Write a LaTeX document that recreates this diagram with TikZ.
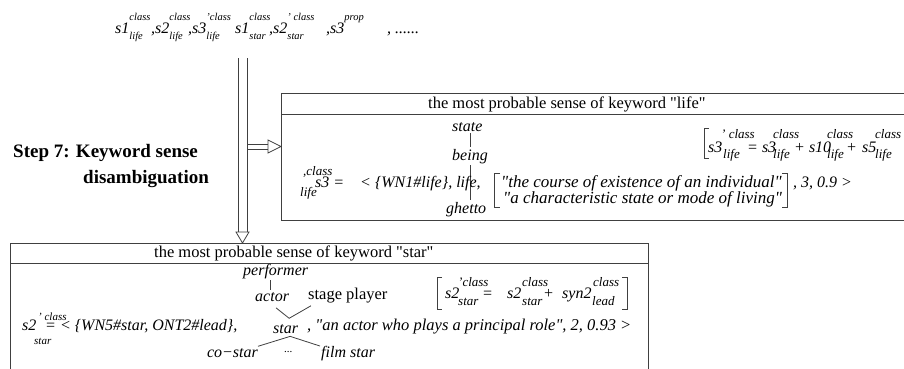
\documentclass[tikz,border=0pt]{standalone}
\usepackage{fontspec}
\setmainfont{Liberation Serif}[Ligatures=TeXOff]
\usetikzlibrary{calc}
\newcommand\sps[3]{#1\begingroup\fontsize{10.5}{10.5}\selectfont\setbox0\hbox{#2}\setbox2\hbox{#3}\ifdim\wd0>\wd2 \dimen0=\wd0 \else \dimen0=\wd2 \fi\hbox to\dimen0{\rlap{\raise13pt\box0}\lower6pt\box2\hfil}\endgroup}
\begin{document}
\begin{tikzpicture}[x=1pt,y=-1pt,
  ln/.style={draw=black!75, line width=0.8pt},
  panel/.style={draw=black!75, line width=0.9pt, anchor=north west, inner sep=0pt},
  t/.style={inner sep=0pt, anchor=base west, font=\fontsize{16}{16}\selectfont\itshape},
  tq/.style={inner sep=0pt, anchor=base west, font=\fontsize{17}{17}\selectfont\itshape},
  tr/.style={inner xsep=0pt, inner ysep=1.5pt, anchor=base west, font=\fontsize{16}{16}\selectfont\itshape},
  sc/.style={inner sep=0pt, anchor=base west, font=\fontsize{13}{13}\selectfont\itshape},
  ss/.style={inner sep=0pt, anchor=base west, font=\fontsize{11}{11}\selectfont\itshape},
  rm/.style={inner sep=0pt, anchor=base west, font=\fontsize{16.5}{16.5}\selectfont},
  bf/.style={inner sep=0pt, anchor=base west, font=\fontsize{19}{19}\selectfont\bfseries}]
\useasboundingbox (0,0) rectangle (904,368);
\clip (0,0) rectangle (904,368);

% ---------- top list of senses
\node[t] (i1) at (115,33) {\sps{s1}{class}{life}};
\node[t] (i2) at (151,33) {\sps{,s2}{class}{life}};
\node[t] (i3) at (188,33) {\sps{,s3}{’class}{life}};
\node[t] (i4) at (235,33) {\sps{s1}{class}{star}};
\node[t] (i5) at (269,33) {\sps{,s2}{’ class}{star}};
\node[t] (i6) at (326,33) {\sps{,s3}{prop}{}};
\node[t] (i7) at (387,33) {, ......};

% ---------- step label
\node[bf] (step1) at (13,157) {Step 7: Keyword sense};
\node[bf] (step2) at (83,183) {disambiguation};

% ---------- panels
\node[panel, minimum width=660pt, minimum height=127pt] (lifebox) at (281,93) {};
\draw[ln] ($(lifebox.north west)+(0,21)$) -- ($(lifebox.north east)+(0,21)$);
\node[panel, minimum width=638pt, minimum height=140pt] (starbox) at (10,243) {};
\draw[ln] ($(starbox.north west)+(0,20)$) -- ($(starbox.north east)+(0,20)$);

% ---------- double arrows
\coordinate (vtop) at (242.5,58);
\coordinate (vbot) at (242.5,232);
\coordinate (hmid) at (247,146.5);
\coordinate (htri) at (268,146.5);
\draw[ln] ($(vtop)+(-4.5,0)$) -- ($(vbot)+(-4.5,0)$);
\draw[ln] ($(vtop)+(4.5,0)$) -- ($(vbot)+(4.5,0)$);
\draw[ln, fill=white] ($(vbot)+(-6.5,0)$) -- ($(vbot)+(6.5,0)$) -- (starbox.north west -| vbot) -- cycle;
\draw[ln] ($(hmid)+(0,-2.5)$) -- ($(htri)+(0,-2.5)$);
\draw[ln] ($(hmid)+(0,2.5)$) -- ($(htri)+(0,2.5)$);
\draw[ln, fill=white] ($(htri)+(0,-6.5)$) -- ($(htri)+(0,6.5)$) -- (htri -| lifebox.west) -- cycle;

% ---------- life panel
\node[rm] (lifehdr) at (428,108) {the most probable sense of keyword "life"};
\node[tr] (state) at (452,131) {state};
\node[tr] (being) at (452,160) {being};
\node[tr] (ghetto) at (446,213) {ghetto};
\coordinate (tx) at (470,0);
\draw[ln] (state.south -| tx) -- (being.north -| tx);
\draw[ln] (being.south -| tx) -- (ghetto.north -| tx);
\node[sc] (s3pre) at (303,175) {,class};
\node[sc] (s3sub) at (300,196) {life};
\node[t] (s3eq) at (315,187) {s3 =};
\node[t] (wn1) at (360,187) {< \{WN1\#life\}, life,};
\draw[ln] (500,173) -- (494,173) -- (494,207) -- (500,207);
\node[tq] (q1) at (501,187) {"the course of existence of an individual"};
\node[tq] (q2) at (503,203) {"a characteristic state or mode of living"};
\draw[ln] (782,173) -- (787,173) -- (787,207) -- (782,207);
\node[t] (num1) at (793,187) {, 3, 0.9 >};

\draw[ln] (709,128) -- (704,128) -- (704,158) -- (709,158);
\node[t] (f1a) at (708,152) {s3};
\node[sc] (f1b) at (721,138) {’ class};
\node[sc] (f1c) at (723,158) {life};
\node[t] (f1d) at (747,152) {= s3};
\node[sc] (f1e) at (773,138) {class};
\node[sc] (f1f) at (773,158) {life};
\node[t] (f1g) at (794,152) {+ s10};
\node[sc] (f1h) at (827,138) {class};
\node[sc] (f1i) at (827,158) {life};
\node[t] (f1j) at (846,152) {+};
\node[t] (f1k) at (862,152) {s5};
\node[sc] (f1l) at (875,138) {class};
\node[sc] (f1m) at (875,158) {life};

% ---------- star panel
\node[rm] (starhdr) at (154,257) {the most probable sense of keyword "star"};
\node[tr] (performer) at (243,275) {performer};
\node[tr] (actor) at (255,301) {actor};
\node[rm] (stage) at (308,299) {stage player};
\node[tr] (star) at (273,333) {star};
\node[tr, anchor=base east] (costar) at (258,357) {co−star};
\node[inner sep=0pt, anchor=base west, font=\fontsize{11}{11}\selectfont] (dots) at (284,352) {...};
\node[tr] (film) at (321,357) {film star};
\coordinate (px) at (270,0);
\coordinate (starTop) at ($(star.north)+(3.5,-4)$);
\coordinate (starBot) at ($(star.south)+(4.5,1.5)$);
\draw[ln] (performer.south -| px) -- (actor.north -| px);
\draw[ln] ($(actor.south)+(4,5)$) -- (starTop) -- ($(stage.south west)+(3,3)$);
\draw[ln] (costar.north east) -- (starBot) -- ($(film.north west)+(-1,2)$);

\node[t] (s2b) at (22,330) {s2};
\node[ss] (s2sup) at (38,320) {’ class};
\node[ss] (s2sub) at (34,344) {star};
\node[t] (wn5) at (45,330) {= < \{WN5\#star, ONT2\#lead\},};
\node[t, font=\fontsize{16.5}{16.5}\selectfont\itshape] (gloss) at (307,330) {, "an actor who plays a principal role", 2, 0.93 >};

\draw[ln] (442,277) -- (437,277) -- (437,309) -- (442,309);
\node[t] (f2a) at (445,298) {s2};
\node[sc] (f2b) at (458,286) {’class};
\node[sc] (f2c) at (458,305) {star};
\node[t] (f2d) at (482,298) {=};
\node[t] (f2e) at (507,298) {s2};
\node[sc] (f2f) at (522,286) {class};
\node[sc] (f2g) at (522,305) {star};
\node[t] (f2h) at (543,298) {+};
\node[t] (f2i) at (562,298) {syn2};
\node[sc] (f2j) at (593,286) {class};
\node[sc] (f2k) at (592,305) {lead};
\draw[ln] (622,277) -- (627,277) -- (627,309) -- (622,309);
\end{tikzpicture}
\end{document}
